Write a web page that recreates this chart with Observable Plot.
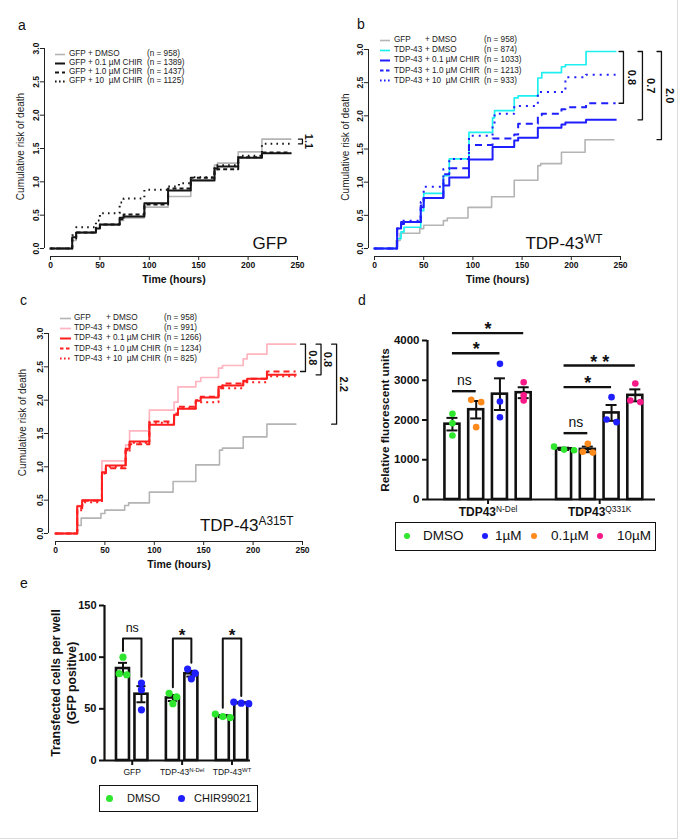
<!DOCTYPE html>
<html lang="en">
<head>
<meta charset="utf-8">
<title>CHIR99021 and TDP-43 survival</title>
<script src="https://cdn.jsdelivr.net/npm/d3@7"></script>
<script src="https://cdn.jsdelivr.net/npm/@observablehq/plot@0.6"></script>
<style>
  html, body { margin: 0; background: #fff; }
  #fig { position: relative; width: 680px; height: 840px; overflow: hidden;
         font-family: "Liberation Sans", Arial, Helvetica, sans-serif; color: #111; }
  #fig::after { content: ""; position: absolute; left: 0; top: 0; width: 677px; height: 838px;
         border-right: 1px solid #dcdcdc; border-bottom: 1px solid #dcdcdc; pointer-events: none; }
  .panel-letter { position: absolute; font-size: 14px; line-height: 1; }
  .km-legend { position: absolute; font-size: 8.2px; line-height: 1; color: #222; }
  .km-legend .row { position: absolute; left: 0; height: 9px; width: 200px; white-space: pre; }
  .km-legend span { position: absolute; top: 0.5px; }
  .km-legend svg { position: absolute; top: 0; left: 0; }
  .box-legend { position: absolute; border: 1.5px solid #111; box-sizing: border-box; background: #fff; }
  .box-legend .dot { position: absolute; border-radius: 50%; }
  .box-legend .txt { position: absolute; line-height: 1; white-space: pre; }
</style>
</head>
<body>
<div id="fig"></div>
<script>
// ---------------- survival curves (cumulative risk of death) ----------------
const timeTicks = [0, 50, 100, 150, 200, 250];
const riskTicks = [0, 0.5, 1, 1.5, 2, 2.5, 3];

// GFP + DMSO control, shared by panels a, b and c
const gfpTimes = [0, 22, 26, 46, 50, 70, 74, 95, 119, 142, 166, 169, 190, 214, 243];
const gfpDmso  = [0, 0.12, 0.23, 0.30, 0.35, 0.42, 0.46, 0.62, 0.78, 1.03, 1.25, 1.28, 1.45, 1.64, 1.64];

// panel a: GFP with CHIR
const aTimes  = [0, 22, 26, 46, 50, 70, 74, 95, 119, 130, 142, 166, 169, 190, 214, 243];
const aChir01 = [0, 0.17, 0.24, 0.30, 0.36, 0.46, 0.48, 0.68, 0.87, 0.87, 1.02, 1.20, 1.23, 1.36, 1.43, 1.43];
const aChir1  = [0, 0.15, 0.24, 0.31, 0.36, 0.44, 0.51, 0.66, 0.90, 0.90, 1.06, 1.17, 1.19, 1.37, 1.44, 1.44];
const aChir10 = [0, 0.20, 0.32, 0.42, 0.53, 0.69, 0.75, 0.88, 0.93, 0.98, 1.07, 1.25, 1.25, 1.39, 1.57, 1.57];
const aN = [958, 1389, 1437, 1125];

// panel b: TDP-43 WT
const bTimes  = [0, 23, 27, 30, 47, 50, 70, 76, 96, 120, 122, 142, 146, 166, 170, 190, 194, 215, 245];
const bDmso   = [0, 0.15, 0.25, 0.32, 0.57, 0.83, 1.10, 1.35, 1.75, 1.97, 2.08, 2.27, 2.30, 2.57, 2.65, 2.74, 2.77, 2.97, 2.97];
const bChir01 = [0, 0.30, 0.37, 0.40, 0.62, 0.76, 0.95, 1.07, 1.34, 1.53, 1.53, 1.63, 1.67, 1.82, 1.82, 1.87, 1.90, 1.94, 1.94];
const bChir1  = [0, 0.30, 0.40, 0.40, 0.65, 0.76, 1.12, 1.21, 1.56, 1.66, 1.66, 1.72, 1.88, 2.01, 2.03, 2.10, 2.13, 2.19, 2.19];
const bChir10 = [0, 0.30, 0.42, 0.42, 0.70, 0.93, 1.20, 1.35, 1.70, 1.87, 2.03, 2.15, 2.15, 2.36, 2.36, 2.36, 2.58, 2.62, 2.62];
const bN = [958, 874, 1033, 1213, 933];

// panel c: TDP-43 A315T
const cTimes  = [0, 22, 27, 47, 51, 71, 75, 95, 120, 124, 142, 147, 165, 169, 190, 194, 214, 243];
const cDmso   = [0, 0.42, 0.50, 1.09, 1.09, 1.33, 1.54, 1.85, 1.97, 2.20, 2.28, 2.34, 2.48, 2.52, 2.62, 2.69, 2.84, 2.84];
const cChir01 = [0, 0.41, 0.50, 0.92, 1.02, 1.27, 1.38, 1.63, 1.78, 1.87, 1.99, 2.04, 2.20, 2.22, 2.29, 2.32, 2.38, 2.38];
const cChir1  = [0, 0.38, 0.49, 0.88, 0.98, 1.25, 1.34, 1.68, 1.80, 1.90, 2.00, 2.05, 2.18, 2.25, 2.28, 2.32, 2.43, 2.43];
const cChir10 = [0, 0.35, 0.47, 0.90, 1.00, 1.22, 1.36, 1.66, 1.78, 1.88, 1.97, 1.97, 2.16, 2.18, 2.27, 2.27, 2.36, 2.36];
const cN = [958, 991, 1266, 1234, 825];

// ---------------- panel d: relative fluorescence ----------------
const dGroups = ["TDP43^N-Del", "TDP43^Q331K"];
const dDoses  = ["DMSO", "0.1µM", "1µM", "10µM"];
const dNDel   = [[2155, 1920, 1610], [2507, 2449, 1820], [3413, 2466, 2071], [2950, 2620, 2490]];
const dQ331K  = [[1240, 1330, 1255], [1400, 1180, 1200], [2575, 1946, 2013], [2920, 2450, 2490]];
const dTicks  = [0, 1000, 2000, 3000, 4000];
const dSigGroup  = [0, 0, 0, 1, 1, 1];
const dSigTarget = [1, 2, 3, 1, 2, 3];
const dSigLevel  = [2725, 3681, 4185, 1669, 2826, 3371];
const dSigText   = ["ns", "*", "*", "ns", "*", "* *"];

// ---------------- panel e: transfected cells per well ----------------
const eGroups     = ["GFP", "TDP-43^N-Del", "TDP-43^WT"];
const eTreatments = ["DMSO", "CHIR99021"];
const eDmso  = [[100, 84, 83], [65, 61.5, 55], [45, 42.5, 41.5]];
const eChir  = [[75, 68.5, 49], [88.5, 84.5, 79], [56.5, 55.5, 55]];
const eTicks = [0, 50, 100, 150];
const eSigText  = ["ns", "*", "*"];
const eSigLevel = 118;

// ---------------- helpers ----------------
const FONT = '"Liberation Sans", Arial, Helvetica, sans-serif';
const fig = document.getElementById("fig");

function place(node, left, top) {
  node.style.position = "absolute";
  node.style.left = left + "px";
  node.style.top = top + "px";
  fig.appendChild(node);
  return node;
}

// "TDP-43^WT" -> "TDP-43" followed by a raised, smaller "WT"
function supify(svg) {
  d3.select(svg).selectAll("text").each(function () {
    if (this.querySelector("tspan")) return;
    const s = this.textContent, i = s.indexOf("^");
    if (i < 0) return;
    const t = d3.select(this).text(s.slice(0, i));
    t.append("tspan").attr("dy", "-0.45em").attr("font-size", "0.7em")
      .attr("font-weight", "normal").text(s.slice(i + 1));
  });
  return svg;
}

function letter(ch, left, top) {
  const d = document.createElement("div");
  d.className = "panel-letter";
  d.textContent = ch;
  d.style.left = left + "px";
  d.style.top = top + "px";
  fig.appendChild(d);
}

function kmLegend({left, top, rowGap, swatch, columns, rows}) {
  const box = document.createElement("div");
  box.className = "km-legend";
  box.style.left = left + "px";
  box.style.top = top + "px";
  rows.forEach((r, i) => {
    const row = document.createElement("div");
    row.className = "row";
    row.style.top = (i * rowGap) + "px";
    row.innerHTML = `<svg width="${swatch}" height="9"><line x1="0" x2="${swatch}" y1="4.5" y2="4.5" stroke="${r.stroke}" stroke-width="${r.width}"${r.dash ? ` stroke-dasharray="${r.dash}"` : ""}/></svg>`;
    r.cells.forEach((c, j) => {
      const s = document.createElement("span");
      s.style.left = columns[j] + "px";
      s.textContent = c;
      row.appendChild(s);
    });
    box.appendChild(row);
  });
  fig.appendChild(box);
}

function boxLegend({left, top, width, height, fontSize, dotR, items}) {
  const box = document.createElement("div");
  box.className = "box-legend";
  Object.assign(box.style, {left: left + "px", top: top + "px", width: width + "px", height: height + "px"});
  items.forEach(it => {
    const dot = document.createElement("div");
    dot.className = "dot";
    Object.assign(dot.style, {left: (it.dotX - dotR) + "px", top: (height / 2 - 1.5 - dotR) + "px",
      width: 2 * dotR + "px", height: 2 * dotR + "px", background: it.color});
    const txt = document.createElement("div");
    txt.className = "txt";
    Object.assign(txt.style, {left: it.textX + "px", top: (height / 2 - 1.5 - fontSize / 2) + "px", fontSize: fontSize + "px"});
    txt.textContent = it.label;
    box.append(dot, txt);
  });
  fig.appendChild(box);
}

// symmetric horizontal spread for replicate points that would overlap
function spread(values, pxPerValue, minGap, step) {
  const order = values.map((_, i) => i).sort((a, b) => values[b] - values[a]);
  const offsets = values.map(() => 0);
  let cluster = [order[0]];
  const flush = () => cluster.forEach((j, n) => offsets[j] = (n - (cluster.length - 1) / 2) * step);
  for (let n = 1; n < order.length; n++) {
    if ((values[order[n - 1]] - values[order[n]]) * pxPerValue < minGap) cluster.push(order[n]);
    else { flush(); cluster = [order[n]]; }
  }
  flush();
  return offsets;
}

const baseStyle = {background: "transparent", fontFamily: FONT, color: "#111", overflow: "visible"};

// ---------------- survival panel ----------------
function survivalPanel(p) {
  const ends = p.series.map(s => s.values[s.values.length - 1]);
  const tMid = (timeTicks[0] + timeTicks[timeTicks.length - 1]) / 2;
  const bracketPath = [], bracketText = [];
  p.brackets.forEach((b, i) => {
    const x = p.bracketX + i * p.bracketStep;
    const y1 = ends[b.from], y2 = ends[b.to];
    [[x - p.bracketTick, y1], [x, y1], [x, y2], [x - p.bracketTick, y2]]
      .forEach(([bx, by]) => bracketPath.push({id: i, x: bx, y: by}));
    bracketText.push({x: x + p.bracketGap, y: (y1 + y2) / 2, label: b.label});
  });
  const marks = [
    Plot.ruleY([riskTicks[0]], {x1: timeTicks[0], x2: timeTicks[timeTicks.length - 1], dy: p.insetBottom, stroke: "#222"}),
    Plot.ruleX([timeTicks[0]], {y1: riskTicks[0], y2: riskTicks[riskTicks.length - 1], dx: -p.insetLeft, stroke: "#222"}),
    Plot.axisX({ticks: timeTicks, tickSize: 4, tickPadding: 1, fontSize: 8.5, fontWeight: "bold", label: null, stroke: "#222"}),
    Plot.axisY({ticks: riskTicks, tickSize: 4, tickPadding: 1.5, tickRotate: -90, tickFormat: d3.format(".1f"),
      fontSize: 8.5, fontWeight: "bold", label: null, stroke: "#222"}),
    Plot.text(["Time (hours)"], {x: () => tMid, frameAnchor: "bottom", dy: 19, lineAnchor: "top", fontSize: 10.5, fontWeight: "bold"}),
    Plot.text(["Cumulative risk of death"], {frameAnchor: "left", textAnchor: "middle", lineAnchor: "middle",
      dx: p.yLabelDx, dy: p.yLabelDy, rotate: -90, fontSize: 10, fill: "#222"}),
    ...p.series.map(s => Plot.line(s.times.map((t, i) => ({t, v: s.values[i]})), {
      x: "t", y: "v", curve: "step-after", stroke: s.stroke, strokeWidth: s.width, strokeDasharray: s.dash,
      strokeLinecap: s.dash ? "butt" : "square"
    })),
    Plot.line(bracketPath, {x: "x", y: "y", z: "id", stroke: "#111", strokeWidth: 1.3}),
    Plot.text(bracketText, {x: "x", y: "y", text: "label", rotate: 90, fontSize: 11, fontWeight: "bold"}),
    Plot.text([p.title], {frameAnchor: "bottom-right", dx: p.titleDx, dy: p.titleDy, fontSize: 17, textAnchor: "end", lineAnchor: "bottom"})
  ];
  const svg = Plot.plot({
    width: p.width, height: p.height,
    marginLeft: p.marginLeft, marginRight: p.marginRight, marginTop: p.marginTop, marginBottom: p.marginBottom,
    x: {domain: [timeTicks[0], timeTicks[timeTicks.length - 1]], insetLeft: p.insetLeft, axis: null},
    y: {domain: [riskTicks[0], riskTicks[riskTicks.length - 1]], insetBottom: p.insetBottom, axis: null},
    style: baseStyle,
    marks
  });
  place(supify(svg), p.left, p.top);
}

const GRAY = "#b4b4b4", BLACK = "#151515", CYAN = "#1fefef", BLUE = "#1e1eff", PINK = "#ffb4bf", RED = "#ff1e1e";

const gfpSeries = {times: gfpTimes, values: gfpDmso, stroke: GRAY, width: 1.6};

// panel a
survivalPanel({
  left: 0, top: 0, width: 340, height: 290,
  marginLeft: 44, marginRight: 43, marginTop: 48, marginBottom: 34, insetLeft: 6, insetBottom: 8,
  yLabelDx: -24, yLabelDy: -6, title: "GFP", titleDx: -10, titleDy: -8,
  series: [
    gfpSeries,
    {times: aTimes, values: aChir01, stroke: BLACK, width: 2},
    {times: aTimes, values: aChir1, stroke: BLACK, width: 2, dash: "4,3"},
    {times: aTimes, values: aChir10, stroke: BLACK, width: 2, dash: "1.6,4.2"}
  ],
  brackets: [{from: 0, to: 3, label: "1.1"}],
  bracketX: 255, bracketStep: 0, bracketTick: 4, bracketGap: 6.5
});
kmLegend({
  left: 55, top: 49.5, rowGap: 9.1, swatch: 10, columns: [14, 92],
  rows: [
    {stroke: GRAY, width: 1.6, cells: ["GFP + DMSO", `(n = ${aN[0]})`]},
    {stroke: BLACK, width: 2, cells: ["GFP + 0.1 µM CHIR", `(n = ${aN[1]})`]},
    {stroke: BLACK, width: 2, dash: "4,3", cells: ["GFP + 1.0 µM CHIR", `(n = ${aN[2]})`]},
    {stroke: BLACK, width: 2, dash: "1.6,2.4", cells: ["GFP + 10  µM CHIR", `(n = ${aN[3]})`]}
  ]
});

// panel b
survivalPanel({
  left: 330, top: 0, width: 350, height: 290,
  marginLeft: 38, marginRight: 60, marginTop: 49, marginBottom: 34, insetLeft: 6, insetBottom: 8,
  yLabelDx: -23, yLabelDy: -6, title: "TDP-43^WT", titleDx: -18, titleDy: -8,
  series: [
    gfpSeries,
    {times: bTimes, values: bDmso, stroke: CYAN, width: 1.7},
    {times: bTimes, values: bChir01, stroke: BLUE, width: 2},
    {times: bTimes, values: bChir1, stroke: BLUE, width: 2, dash: "7,5"},
    {times: bTimes, values: bChir10, stroke: BLUE, width: 2, dash: "2,5"}
  ],
  brackets: [{from: 1, to: 3, label: "0.8"}, {from: 1, to: 2, label: "0.7"}, {from: 1, to: 0, label: "2.0"}],
  bracketX: 253, bracketStep: 19.3, bracketTick: 4.5, bracketGap: 8.5
});
kmLegend({
  left: 380, top: 35.5, rowGap: 10.2, swatch: 10, columns: [14, 45, 104],
  rows: [
    {stroke: GRAY, width: 1.6, cells: ["GFP", "+ DMSO", `(n = ${bN[0]})`]},
    {stroke: CYAN, width: 1.7, cells: ["TDP-43", "+ DMSO", `(n = ${bN[1]})`]},
    {stroke: BLUE, width: 2, cells: ["TDP-43", "+ 0.1 µM CHIR", `(n = ${bN[2]})`]},
    {stroke: BLUE, width: 2, dash: "3.5,2.5", cells: ["TDP-43", "+ 1.0 µM CHIR", `(n = ${bN[3]})`]},
    {stroke: BLUE, width: 2, dash: "1.6,2.4", cells: ["TDP-43", "+ 10  µM CHIR", `(n = ${bN[4]})`]}
  ]
});

// panel c
survivalPanel({
  left: 0, top: 290, width: 360, height: 285,
  marginLeft: 48, marginRight: 58, marginTop: 43, marginBottom: 34, insetLeft: 7, insetBottom: 8,
  yLabelDx: -26, yLabelDy: -15, title: "TDP-43^A315T", titleDx: -9, titleDy: -11,
  series: [
    gfpSeries,
    {times: cTimes, values: cDmso, stroke: PINK, width: 1.7},
    {times: cTimes, values: cChir01, stroke: RED, width: 2},
    {times: cTimes, values: cChir1, stroke: RED, width: 2, dash: "6,4"},
    {times: cTimes, values: cChir10, stroke: RED, width: 2, dash: "2,4"}
  ],
  brackets: [{from: 1, to: 3, label: "0.8"}, {from: 1, to: 2, label: "0.8"}, {from: 1, to: 0, label: "2.2"}],
  bracketX: 253, bracketStep: 15.75, bracketTick: 5, bracketGap: 7
});
kmLegend({
  left: 60, top: 313.5, rowGap: 10.2, swatch: 11, columns: [14, 46, 104],
  rows: [
    {stroke: GRAY, width: 1.6, cells: ["GFP", "+ DMSO", `(n = ${cN[0]})`]},
    {stroke: PINK, width: 1.7, cells: ["TDP-43", "+ DMSO", `(n = ${cN[1]})`]},
    {stroke: RED, width: 2, cells: ["TDP-43", "+ 0.1 µM CHIR", `(n = ${cN[2]})`]},
    {stroke: RED, width: 2, dash: "3.5,2.5", cells: ["TDP-43", "+ 1.0 µM CHIR", `(n = ${cN[3]})`]},
    {stroke: RED, width: 2, dash: "1.6,2.4", cells: ["TDP-43", "+ 10  µM CHIR", `(n = ${cN[4]})`]}
  ]
});

// ---------------- bar panels ----------------
function barPanel(p) {
  const pxPerX = (p.width - p.marginLeft - p.marginRight) / (p.xDomain[1] - p.xDomain[0]);
  const pxPerY = (p.height - p.marginTop - p.marginBottom) / (p.yTicks[p.yTicks.length - 1] - p.yTicks[0]);
  const bars = [], dots = [];
  p.replicates.forEach((byTreatment, g) => byTreatment.forEach((vals, t) => {
    const x = p.pos(g, t);
    const mean = d3.mean(vals), sem = d3.deviation(vals) / Math.sqrt(vals.length);
    bars.push({g, t, x, mean, sem, max: d3.max(vals)});
    const off = spread(vals, pxPerY, p.dotR * 1.5, p.dotStep);
    vals.forEach((v, k) => dots.push({t, x: x + off[k] / pxPerX, v}));
  }));
  const centers = p.groups.map((_, g) => (p.pos(g, 0) + p.pos(g, p.replicates[g].length - 1)) / 2);
  const bw = p.barPx / pxPerX, cap = p.capPx / pxPerX;
  const caps = bars.flatMap(b => [{x: b.x, y: b.mean - b.sem}, {x: b.x, y: b.mean + b.sem}]);
  // one rotated text per label line, spaced by p.yLabelGap pixels
  const labelLines = p.yLabel.map((line, i) => Plot.text([line], {
    frameAnchor: "left", textAnchor: "middle", lineAnchor: "middle", rotate: -90,
    dx: p.yLabelDx + (i - (p.yLabel.length - 1) / 2) * p.yLabelGap,
    fontSize: p.yLabelFont, fontWeight: "bold"
  }));
  const marks = [
    Plot.rect(bars, {x1: d => d.x - bw / 2, x2: d => d.x + bw / 2, y1: 0, y2: "mean", fill: "white", stroke: "#111", strokeWidth: 2.6}),
    Plot.ruleX(bars, {x: "x", y1: d => d.mean - d.sem, y2: d => d.mean + d.sem, stroke: "#111", strokeWidth: 2}),
    Plot.ruleY(caps, {y: "y", x1: d => d.x - cap, x2: d => d.x + cap, stroke: "#111", strokeWidth: 2}),
    Plot.dot(dots, {x: "x", y: "v", r: p.dotR, fill: d => p.colors[d.t], stroke: "none"}),
    Plot.ruleX([p.xDomain[0]], {stroke: "#111", strokeWidth: 2.2}),
    Plot.ruleY([0], {stroke: "#111", strokeWidth: 2.2}),
    Plot.axisY({ticks: p.yTicks, tickFormat: d3.format("d"), tickSize: 5, tickPadding: 3, strokeWidth: 2,
      fontSize: p.yTickFont, fontWeight: "bold", label: null}),
    Plot.axisX({ticks: centers, tickFormat: d => p.groups[centers.indexOf(d)], tickSize: 5, tickPadding: 3, strokeWidth: 2,
      fontSize: p.xTickFont, fontWeight: p.xTickWeight, label: null}),
    ...labelLines,
    ...p.extra(bars)
  ];
  const svg = Plot.plot({
    width: p.width, height: p.height,
    marginLeft: p.marginLeft, marginRight: p.marginRight, marginTop: p.marginTop, marginBottom: p.marginBottom,
    x: {domain: p.xDomain, axis: null},
    y: {domain: [p.yTicks[0], p.yTicks[p.yTicks.length - 1]], axis: null},
    color: {type: "identity"},
    style: baseStyle,
    marks
  });
  place(supify(svg), p.left, p.top);
}

// panel d
const D_COLORS = ["#2ee62e", "#ff8a1c", "#1e1eff", "#f81888"];
const dPos = (g, t) => g * 4.7 + t;
const dSig = dSigLevel.map((level, i) => ({g: dSigGroup[i], to: dSigTarget[i], level, label: dSigText[i]}));
barPanel({
  left: 340, top: 290, width: 340, height: 240,
  marginLeft: 87, marginRight: 25, marginTop: 50, marginBottom: 31,
  xDomain: [-1.05, 8.55], yTicks: dTicks, pos: dPos,
  groups: dGroups, replicates: [dNDel, dQ331K], colors: D_COLORS,
  barPx: 15, capPx: 5.5, dotR: 3.3, dotStep: 10,
  yTickFont: 11.5, xTickFont: 12, xTickWeight: "bold",
  yLabel: ["Relative fluorescent units"], yLabelDx: -42, yLabelGap: 0, yLabelFont: 11.8,
  extra: () => [
    Plot.ruleY(dSig, {y: "level", x1: d => dPos(d.g, 0), x2: d => dPos(d.g, d.to), stroke: "#111", strokeWidth: 2.4}),
    Plot.text(dSig.filter(d => d.label === "ns"), {x: d => (dPos(d.g, 0) + dPos(d.g, d.to)) / 2, y: "level", text: "label",
      dy: -6.5, lineAnchor: "bottom", fontSize: 14}),
    Plot.text(dSig.filter(d => d.label !== "ns"), {x: d => (dPos(d.g, 0) + dPos(d.g, d.to)) / 2, y: "level", text: "label",
      dy: 2, lineAnchor: "bottom", fontSize: 18, fontWeight: "bold"})
  ]
});
boxLegend({
  left: 395, top: 522, width: 261, height: 29, fontSize: 13.5, dotR: 3,
  items: [
    {color: D_COLORS[0], label: dDoses[0], dotX: 11, textX: 27},
    {color: D_COLORS[2], label: dDoses[2], dotX: 89, textX: 99},
    {color: D_COLORS[1], label: dDoses[1], dotX: 138, textX: 155},
    {color: D_COLORS[3], label: dDoses[3], dotX: 204, textX: 221}
  ]
});

// panel e
const E_COLORS = ["#2ee62e", "#1e1eff"];
const ePos = (g, t) => g * 2.7 + t;
const eReplicates = eGroups.map((_, g) => [eDmso[g], eChir[g]]);
barPanel({
  left: 0, top: 590, width: 340, height: 195,
  marginLeft: 104, marginRight: 90, marginTop: 15, marginBottom: 25,
  xDomain: [-1, 6.9], yTicks: eTicks, pos: ePos,
  groups: eGroups, replicates: eReplicates, colors: E_COLORS,
  barPx: 13, capPx: 4.5, dotR: 3.6, dotStep: 7.5,
  yTickFont: 11, xTickFont: 8.5, xTickWeight: "normal",
  yLabel: ["Transfected cells per well", "(GFP positive)"], yLabelDx: -40.5, yLabelGap: 16.5, yLabelFont: 12.2,
  extra: bars => {
    const legs = eGroups.flatMap((_, g) => {
      const [a, b] = bars.filter(d => d.g === g);
      return [{g, x: a.x, y: a.max + 6}, {g, x: a.x, y: eSigLevel}, {g, x: b.x, y: eSigLevel}, {g, x: b.x, y: b.max + 6}];
    });
    const labels = eSigText.map((label, g) => ({x: (ePos(g, 0) + ePos(g, 1)) / 2, label}));
    return [
      Plot.line(legs, {x: "x", y: "y", z: "g", stroke: "#111", strokeWidth: 2}),
      Plot.text(labels.filter(d => d.label === "ns"), {x: "x", y: () => eSigLevel, text: "label", dy: -7, lineAnchor: "bottom", fontSize: 12.5}),
      Plot.text(labels.filter(d => d.label !== "ns"), {x: "x", y: () => eSigLevel, text: "label", dy: 2, lineAnchor: "bottom", fontSize: 17, fontWeight: "bold"})
    ];
  }
});
boxLegend({
  left: 99, top: 785, width: 159, height: 27, fontSize: 11, dotR: 3.5,
  items: [
    {color: E_COLORS[0], label: eTreatments[0], dotX: 9, textX: 27},
    {color: E_COLORS[1], label: eTreatments[1], dotX: 81, textX: 94}
  ]
});

// panel letters
letter("a", 18, 18);
letter("b", 357, 17);
letter("c", 20, 293);
letter("d", 358, 293);
letter("e", 20, 576);
</script>
</body>
</html>
